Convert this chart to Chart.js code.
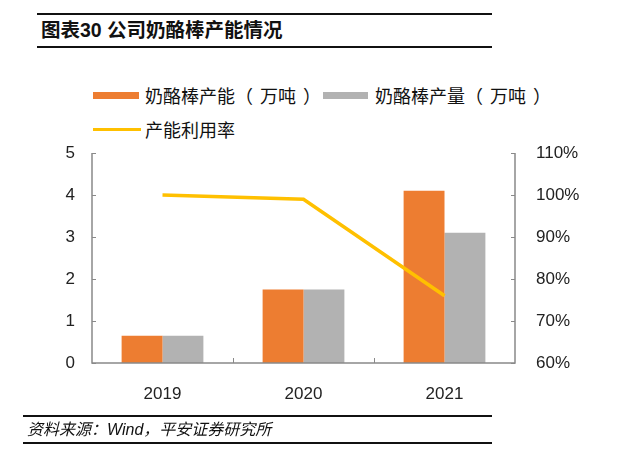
<!DOCTYPE html>
<html>
<head>
<meta charset="utf-8">
<script src="https://cdn.jsdelivr.net/npm/chart.js@4"></script>
<style>
  body { margin: 0; background: #fff; }
  #wrap { position: relative; width: 640px; height: 464px; background: #fff; overflow: hidden;
          font-family: "Liberation Sans", "Noto Sans CJK SC", sans-serif; color: #111; }
  #chart { position: absolute; left: 0; top: 0; }
  .rule { position: absolute; height: 2px; background: #111; }
  .txt { position: absolute; white-space: nowrap; line-height: 1; }
  .cjk { font-family: "Noto Sans CJK SC", sans-serif; }
  .po { margin-right: 7px; }
  .pc { margin-left: 7px; }
  .sw { position: absolute; }
</style>
</head>
<body>
<div id="wrap">
  <div class="rule" style="left:37px; top:13px; width:455px;"></div>
  <div class="txt" style="left:41px; top:21px; font-size:19.5px; font-weight:bold;">图表30 公司奶酪棒产能情况</div>
  <div class="rule" style="left:37px; top:46px; width:455px;"></div>

  <div class="sw" style="left:93px; top:92px; width:46px; height:7px; background:#ED7D31;"></div>
  <div class="txt cjk" style="left:145px; top:86px; font-size:18px;">奶酪棒产能<span class="po">（</span>万吨<span class="pc">）</span></div>
  <div class="sw" style="left:323px; top:92px; width:45px; height:7px; background:#B2B2B2;"></div>
  <div class="txt cjk" style="left:375px; top:86px; font-size:18px;">奶酪棒产量<span class="po">（</span>万吨<span class="pc">）</span></div>
  <div class="sw" style="left:93px; top:128px; width:48px; height:3px; background:#FFC000;"></div>
  <div class="txt cjk" style="left:145px; top:120px; font-size:18px;">产能利用率</div>

  <canvas id="chart" width="640" height="464"></canvas>

  <div class="rule" style="left:23px; top:415px; width:469px;"></div>
  <div class="txt" style="left:27px; top:422px; font-size:16px; font-style:italic;">资料来源：Wind，平安证券研究所</div>
  <div class="rule" style="left:23px; top:442px; width:469px;"></div>
</div>
<script>
const years = ["2019", "2020", "2021"];
const capacity = [0.65, 1.75, 4.1];   // 奶酪棒产能（万吨）
const output = [0.65, 1.75, 3.1];     // 奶酪棒产量（万吨）
const utilization = [100, 99, 76];    // 产能利用率 %

const axisColor = "#898989";
const tickFont = { family: "'Liberation Sans', Arial, sans-serif", size: 17 };

// axis lines + short inward tick marks
const axisPlugin = {
    id: "axisPlugin",
    afterDatasetsDraw(chart) {
        const { ctx, chartArea: a, scales } = chart;
        ctx.save();
        ctx.strokeStyle = axisColor;
        ctx.lineWidth = 1.5;
        ctx.beginPath();
        ctx.moveTo(a.left, a.top);
        ctx.lineTo(a.left, a.bottom);
        ctx.lineTo(a.right, a.bottom);
        ctx.lineTo(a.right, a.top);
        ctx.stroke();

        ctx.lineWidth = 1;
        ctx.beginPath();
        scales.y.ticks.forEach(t => {
            const y = Math.round(scales.y.getPixelForValue(t.value)) + 0.5;
            ctx.moveTo(a.left, y);
            ctx.lineTo(a.left + 4, y);
        });
        scales.y2.ticks.forEach(t => {
            const y = Math.round(scales.y2.getPixelForValue(t.value)) + 0.5;
            ctx.moveTo(a.right - 4, y);
            ctx.lineTo(a.right, y);
        });
        for (let i = 0; i < years.length - 1; i++) {
            const x = Math.round((scales.x.getPixelForValue(i) + scales.x.getPixelForValue(i + 1)) / 2) + 0.5;
            ctx.moveTo(x, a.bottom);
            ctx.lineTo(x, a.bottom - 5);
        }
        ctx.stroke();
        ctx.restore();
    }
};

new Chart(document.getElementById("chart"), {
    type: "bar",
    data: {
        labels: years,
        datasets: [
            {
                type: "line",
                label: "产能利用率",
                data: utilization,
                yAxisID: "y2",
                borderColor: "#FFC000",
                borderWidth: 3.5,
                pointRadius: 0,
                tension: 0,
                order: 0,
            },
            {
                label: "奶酪棒产能（万吨）",
                data: capacity,
                backgroundColor: "#ED7D31",
                yAxisID: "y",
                barPercentage: 1,
                categoryPercentage: 0.58,
                order: 1,
            },
            {
                label: "奶酪棒产量（万吨）",
                data: output,
                backgroundColor: "#B2B2B2",
                yAxisID: "y",
                barPercentage: 1,
                categoryPercentage: 0.58,
                order: 1,
            },
        ],
    },
    options: {
        responsive: false,
        animation: false,
        layout: { padding: { top: 153, left: 0, right: 0, bottom: 0 } },
        plugins: {
            legend: { display: false },
            tooltip: { enabled: false },
        },
        scales: {
            x: {
                grid: { display: false },
                border: { display: false },
                ticks: { color: "#222", font: tickFont, padding: 13 },
                afterFit(scale) { scale.height = 101; },
            },
            y: {
                position: "left",
                min: 0,
                max: 5,
                grid: { display: false, drawTicks: false },
                border: { display: false },
                ticks: { stepSize: 1, color: "#222", font: tickFont, padding: 17 },
                afterFit(scale) { scale.width = 92; },
            },
            y2: {
                position: "right",
                min: 60,
                max: 110,
                grid: { display: false, drawTicks: false },
                border: { display: false },
                ticks: {
                    stepSize: 10,
                    color: "#222",
                    font: tickFont,
                    padding: 21,
                    callback: v => v + "%",
                },
                afterFit(scale) { scale.width = 125; },
            },
        },
    },
    plugins: [axisPlugin],
});
</script>
</body>
</html>
